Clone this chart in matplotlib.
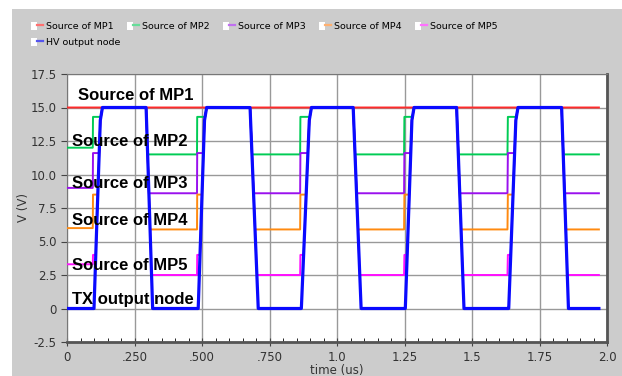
import matplotlib
matplotlib.use("Agg")
import matplotlib.pyplot as plt
import numpy as np
from matplotlib.lines import Line2D
from matplotlib.patches import Patch, Rectangle
from matplotlib.legend_handler import HandlerTuple

# edge times of the HV output node (us)
t_rise = [0.100, 0.486, 0.868, 1.253, 1.636]   # leaves 0 V
t_top = [0.131, 0.517, 0.905, 1.285, 1.670]    # reaches 15 V
t_fall = [0.293, 0.678, 1.060, 1.443, 1.832]   # leaves 15 V
t_low = [0.317, 0.708, 1.089, 1.470, 1.857]    # back at 0 V
t_end = 1.97

v_high = 15.0
v_knee = 14.0

# source levels: before first pulse, just before each rise, between pulses
names = ["Source of MP1", "Source of MP2", "Source of MP3", "Source of MP4", "Source of MP5"]
v_start = [15.0, 12.0, 9.0, 6.0, 3.3]
v_pre = [15.0, 14.3, 11.6, 8.5, 4.0]
v_low = [15.0, 11.5, 8.6, 5.9, 2.5]
colors = ["#ff2a2a", "#00cc55", "#9a10ee", "#ff8a10", "#ff10ff"]
leg_colors = ["#ff7070", "#66dd99", "#c070f0", "#ffb070", "#ff70ff"]

labels_in = ["Source of MP1", "Source of MP2", "Source of MP3", "Source of MP4",
             "Source of MP5", "TX output node"]
label_x = [0.04, 0.018, 0.018, 0.018, 0.018, 0.018]
label_y = [15.9, 12.45, 9.3, 6.55, 3.2, 0.7]

t = np.linspace(0, t_end, 8000)

# blue trace
bt, bv = [0.0], [0.0]
for a, b, c, d in zip(t_rise, t_top, t_fall, t_low):
    bt += [a, b - 0.008, b, c, d]
    bv += [0.0, v_knee, v_high, v_high, 0.0]
bt.append(t_end)
bv.append(0.0)
hv = np.interp(t, bt, bv)


def source(i):
    st, sv = [0.0], [v_start[i]]
    prev = v_start[i]
    for a, b in zip(t_rise, t_top):
        st += [a - 0.0045, a - 0.004, b, b + 0.001]
        sv += [prev, v_pre[i], v_pre[i], v_low[i]]
        prev = v_low[i]
    st.append(t_end)
    sv.append(v_low[i])
    floor = np.interp(t, st, sv)
    return np.maximum(hv, floor)


fig = plt.figure(figsize=(6.22, 3.76), dpi=100, facecolor="white")
fig.patches.append(Rectangle((12 / 622, 0), 1, 1 - 9 / 376, transform=fig.transFigure,
                             facecolor="#cccccc", edgecolor="none", zorder=-10))
ax = fig.add_axes([67 / 622, 1 - 342 / 376, 540 / 622, 268 / 376])

for i in range(5):
    ax.plot(t, source(i), color=colors[i], lw=1.4, zorder=3)
ax.plot(t, hv, color="#0a0aff", lw=2.3, zorder=4)

for s, x, y in zip(labels_in, label_x, label_y):
    ax.text(x, y, s, fontsize=12, fontweight="bold",
            family="Liberation Sans", va="center", ha="left", zorder=5)

ax.set_xlim(0, 2.0)
ax.set_ylim(-2.5, 17.5)
ax.set_xticks([0, 0.25, 0.5, 0.75, 1.0, 1.25, 1.5, 1.75, 2.0])
ax.set_xticklabels(["0", ".250", ".500", ".750", "1.0", "1.25", "1.5", "1.75", "2.0"])
ax.set_xticks(np.arange(0, 2.001, 0.05), minor=True)
ax.set_yticks(np.arange(-2.5, 17.6, 2.5))
ax.set_yticklabels(["-2.5", "0", "2.5", "5.0", "7.5", "10.0", "12.5", "15.0", "17.5"])
ax.tick_params(labelsize=8.5, labelcolor="#333333", color="#444444")
ax.tick_params(axis="x", which="major", direction="inout", length=6)
ax.tick_params(axis="x", which="minor", direction="in", length=3)
ax.tick_params(axis="y", which="major", direction="out", length=4)
ax.grid(True, color="#999999", lw=1)
for side in ["left", "top"]:
    ax.spines[side].set_color("#777777")
for side in ["right", "bottom"]:
    ax.spines[side].set_color("#555555")
    ax.spines[side].set_linewidth(2)

ax.set_xlabel("time (us)", fontsize=8.5, color="#333333", labelpad=0)
ax.set_ylabel("V (V)", fontsize=8.5, color="#333333", labelpad=0)

# legend: five sources on the first row, HV output node on the second
def leg_handle(c):
    return (Patch(facecolor="white", edgecolor="none"), Line2D([], [], color=c, lw=1.6))


leg_kw = dict(handler_map={tuple: HandlerTuple(ndivide=None)}, loc="upper left",
              frameon=False, fontsize=6.8, handlelength=1.35, handleheight=0.9,
              handletextpad=0.25, columnspacing=1.4, borderpad=0)
leg1 = fig.legend([leg_handle(c) for c in leg_colors], names, ncol=5,
                  bbox_to_anchor=(26 / 622, 1 - 17 / 376), **leg_kw)
leg2 = fig.legend([leg_handle("#5555ee")], ["HV output node"], ncol=1,
                  bbox_to_anchor=(26 / 622, 1 - 33 / 376), **leg_kw)

fig.savefig("out.png", dpi=100, facecolor=fig.get_facecolor())
